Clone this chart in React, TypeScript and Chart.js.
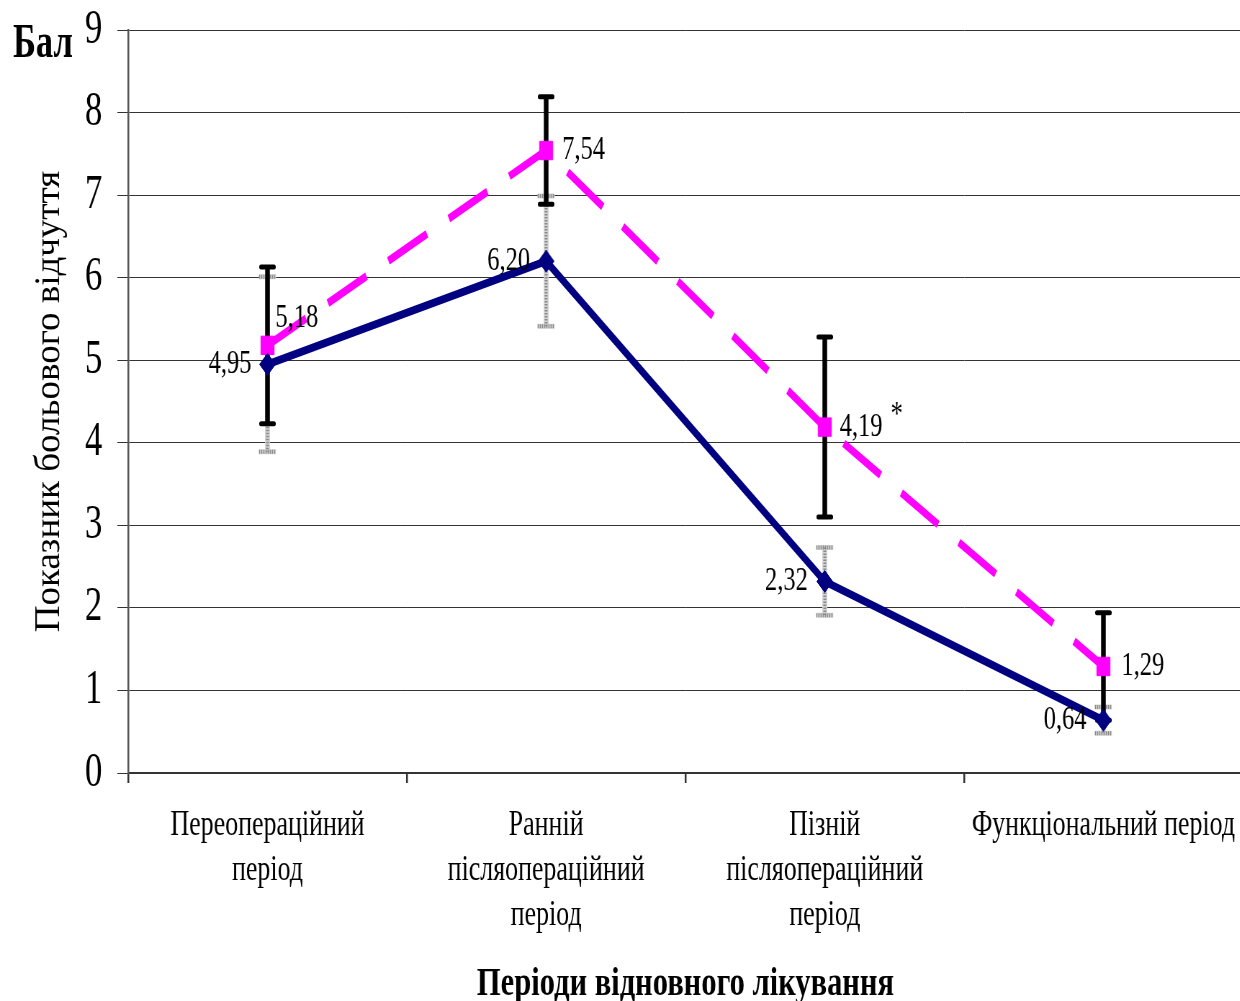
import React, { useEffect, useRef } from "react";
import { Chart, registerables } from "chart.js";

Chart.register(...registerables);

// ---------------- data ----------------
const categories: string[][] = [
  ["Переопераційний", "період"],
  ["Ранній", "післяопераційний", "період"],
  ["Пізній", "післяопераційний", "період"],
  ["Функціональний період"],
];
const seriesNavy = [4.95, 6.2, 2.32, 0.64];
const seriesNavyErr = [1.06, 0.79, 0.41, 0.16];
const seriesPink = [5.18, 7.54, 4.19, 1.29];
const seriesPinkErr = [0.95, 0.65, 1.09, 0.65];
const pinkMarks = ["", "", "*", ""];
const yTickLabels = ["0", "1", "2", "3", "4", "5", "6", "7", "8", "9"];
const yTitle = "Показник больового відчуття";
const xTitle = "Періоди відновного лікування";
const unitLabel = "Бал";

// ---------------- styling ----------------
const SX = 0.72; // horizontal condensation of the whole picture
const CANVAS_W = 1740;
const CANVAS_H = 1001;
const SERIF = "'Liberation Serif', 'Times New Roman', serif";
const NAVY = "#000080";
const PINK = "#FF00FF";

const fmt = (v: number) => v.toFixed(2).replace(".", ",");

// label placement in screen px relative to the point
const pinkPlace = [
  { dx: 8, dy: -27 },
  { dx: 16, dy: 0 },
  { dx: 15, dy: 0 },
  { dx: 18, dy: 0 },
];
const navyPlace = [
  { dx: -16, dy: 0 },
  { dx: -16, dy: 0 },
  { dx: -17, dy: 0 },
  { dx: -17, dy: 0 },
];

const errorBarsPlugin = {
  id: "errorBars",
  beforeDatasetsDraw(chart: any) {
    const ctx = chart.ctx as CanvasRenderingContext2D;
    const y = chart.scales.y;
    const navyMeta = chart.getDatasetMeta(0);
    const pinkMeta = chart.getDatasetMeta(1);
    ctx.save();
    // gray dotted error bars (navy series)
    seriesNavy.forEach((v, i) => {
      const px = navyMeta.data[i].x;
      const top = y.getPixelForValue(v + seriesNavyErr[i]);
      const bot = y.getPixelForValue(v - seriesNavyErr[i]);
      const hw = 8.5 / SX;
      ctx.setLineDash([]);
      ctx.lineCap = "butt";
      ctx.strokeStyle = "#d4d4d4";
      ctx.lineWidth = 7;
      ctx.beginPath();
      ctx.moveTo(px, top);
      ctx.lineTo(px, bot);
      ctx.stroke();
      ctx.lineWidth = 5;
      ctx.beginPath();
      ctx.moveTo(px - hw, top);
      ctx.lineTo(px + hw, top);
      ctx.moveTo(px - hw, bot);
      ctx.lineTo(px + hw, bot);
      ctx.stroke();
      ctx.strokeStyle = "#8a8a8a";
      ctx.setLineDash([1.5, 1.5]);
      ctx.lineWidth = 4;
      ctx.beginPath();
      ctx.moveTo(px, top);
      ctx.lineTo(px, bot);
      ctx.moveTo(px - hw, top);
      ctx.lineTo(px + hw, top);
      ctx.moveTo(px - hw, bot);
      ctx.lineTo(px + hw, bot);
      ctx.stroke();
    });
    // black error bars (pink series)
    ctx.setLineDash([]);
    ctx.strokeStyle = "#000";
    seriesPink.forEach((v, i) => {
      const px = pinkMeta.data[i].x;
      const top = y.getPixelForValue(v + seriesPinkErr[i]);
      const bot = y.getPixelForValue(v - seriesPinkErr[i]);
      const hw = 6.5 / SX;
      ctx.lineCap = "butt";
      ctx.lineWidth = 6.5;
      ctx.beginPath();
      ctx.moveTo(px, top);
      ctx.lineTo(px, bot);
      ctx.stroke();
      ctx.lineCap = "round";
      ctx.lineWidth = 5;
      ctx.beginPath();
      ctx.moveTo(px - hw, top);
      ctx.lineTo(px + hw, top);
      ctx.moveTo(px - hw, bot);
      ctx.lineTo(px + hw, bot);
      ctx.stroke();
    });
    ctx.restore();
  },
};

const labelsPlugin = {
  id: "valueLabels",
  afterDatasetsDraw(chart: any) {
    const ctx = chart.ctx as CanvasRenderingContext2D;
    const navyMeta = chart.getDatasetMeta(0);
    const pinkMeta = chart.getDatasetMeta(1);
    ctx.save();
    ctx.fillStyle = "#000";
    ctx.font = `34px ${SERIF}`;
    ctx.textBaseline = "middle";
    seriesPink.forEach((v, i) => {
      const p = pinkMeta.data[i];
      const tx = p.x + pinkPlace[i].dx / SX;
      const ty = p.y + pinkPlace[i].dy;
      ctx.textAlign = "left";
      const t = fmt(v);
      ctx.fillText(t, tx, ty);
      if (pinkMarks[i]) {
        const w = ctx.measureText(t).width;
        ctx.fillText(pinkMarks[i], tx + w + 8 / SX, ty - 12);
      }
    });
    seriesNavy.forEach((v, i) => {
      const p = navyMeta.data[i];
      ctx.textAlign = "right";
      ctx.fillText(fmt(v), p.x + navyPlace[i].dx / SX, p.y + navyPlace[i].dy);
    });
    ctx.restore();
  },
};

const titlesPlugin = {
  id: "titles",
  afterDraw(chart: any) {
    const ctx = chart.ctx as CanvasRenderingContext2D;
    const area = chart.chartArea;
    ctx.save();
    ctx.fillStyle = "#000";
    // unit label
    ctx.font = `bold 48px ${SERIF}`;
    ctx.textAlign = "left";
    ctx.textBaseline = "alphabetic";
    ctx.fillText(unitLabel, 13 / SX, 57);
    // x title (slightly wider than the library font)
    ctx.save();
    ctx.font = `bold 40px ${SERIF}`;
    ctx.textAlign = "center";
    ctx.translate((area.left + area.right) / 2, 995);
    ctx.scale(1.06, 1);
    ctx.fillText(xTitle, 0, 0);
    ctx.restore();
    // y title (rotated, not condensed)
    ctx.font = `37px ${SERIF}`;
    ctx.translate(59 / SX, (area.top + area.bottom) / 2);
    ctx.scale(1 / SX, 1);
    ctx.rotate(-Math.PI / 2);
    ctx.textAlign = "center";
    ctx.textBaseline = "alphabetic";
    ctx.fillText(yTitle, 0, 0);
    ctx.restore();
  },
};

export default function App() {
  const ref = useRef<HTMLCanvasElement>(null);

  useEffect(() => {
    const canvas = ref.current;
    if (!canvas) return;
    const chart = new Chart(canvas, {
      type: "line",
      data: {
        labels: categories as any,
        datasets: [
          {
            label: "navy",
            data: seriesNavy,
            borderColor: NAVY,
            backgroundColor: NAVY,
            borderWidth: 8,
            pointStyle: "rectRot",
            pointRadius: 11,
            pointBackgroundColor: NAVY,
            pointBorderColor: NAVY,
            pointBorderWidth: 1,
            tension: 0,
            fill: false,
          },
          {
            label: "pink",
            data: seriesPink,
            borderColor: PINK,
            backgroundColor: PINK,
            borderWidth: 8,
            borderDash: [60, 34],
            pointStyle: "rect",
            pointRadius: 13,
            pointBackgroundColor: PINK,
            pointBorderColor: PINK,
            pointBorderWidth: 1,
            tension: 0,
            fill: false,
          },
        ],
      },
      options: {
        responsive: false,
        animation: false,
        devicePixelRatio: 1,
        layout: { padding: { top: 30, right: 3, left: 0, bottom: 0 } },
        plugins: {
          legend: { display: false },
          tooltip: { enabled: false },
        },
        scales: {
          x: {
            type: "category",
            offset: true,
            grid: {
              offset: true,
              drawOnChartArea: false,
              drawTicks: true,
              tickLength: 10,
              color: "#333",
              lineWidth: 2.5,
            },
            border: { display: true, color: "#333", width: 2 },
            ticks: {
              color: "#000",
              font: { family: SERIF, size: 36, lineHeight: 1.25 },
              padding: 20,
              maxRotation: 0,
              minRotation: 0,
              autoSkip: false,
            },
            afterFit: (s: any) => {
              s.height = 228;
              s.paddingLeft = 0;
              s.paddingRight = 0;
            },
          },
          y: {
            min: 0,
            max: 9,
            ticks: {
              stepSize: 1,
              color: "#000",
              font: { family: SERIF, size: 48 },
              padding: 21,
              callback: (v: any) => yTickLabels[Number(v)] ?? "",
            },
            grid: {
              color: "#333",
              lineWidth: 1,
              drawTicks: true,
              tickLength: 15,
            },
            border: { display: true, color: "#555", width: 2.5 },
            afterFit: (s: any) => {
              s.width = 178;
              s.paddingTop = 0;
              s.paddingBottom = 0;
            },
          },
        },
      } as any,
      plugins: [errorBarsPlugin, labelsPlugin, titlesPlugin],
    });
    return () => chart.destroy();
  }, []);

  return (
    <div
      style={{
        position: "fixed",
        left: 0,
        top: 0,
        width: 1240,
        height: 1001,
        overflow: "hidden",
        background: "#fff",
      }}
    >
      <div
        style={{
          width: CANVAS_W,
          height: CANVAS_H,
          transform: `scaleX(${SX})`,
          transformOrigin: "0 0",
        }}
      >
        <canvas ref={ref} width={CANVAS_W} height={CANVAS_H} style={{ display: "block" }} />
      </div>
    </div>
  );
}
